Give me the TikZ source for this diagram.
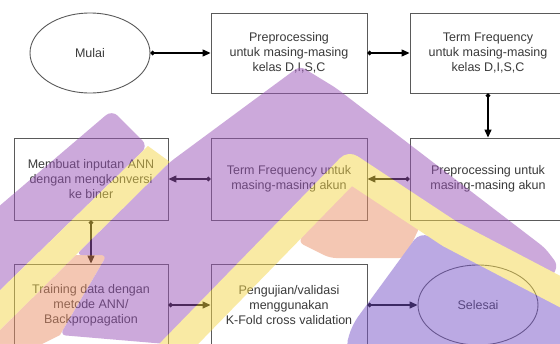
\documentclass[tikz,border=0pt]{standalone}
\usepackage{fontspec}
\setmainfont{Liberation Sans}
\usetikzlibrary{arrows.meta,shapes.geometric}
\definecolor{txt}{HTML}{3A3A3A}
\definecolor{bord}{HTML}{5A5A5A}
\definecolor{wmP}{RGB}{155,85,185}
\definecolor{wmB}{RGB}{120,85,200}
\definecolor{wmY}{RGB}{245,215,75}
\definecolor{wmO}{RGB}{235,145,105}
\begin{document}
\begin{tikzpicture}[x=1pt,y=-1pt,
  lbl/.style={text=txt,font=\fontsize{12.5}{15}\selectfont,align=center},
  box/.style={lbl,draw=bord,line width=0.9pt,rectangle,minimum width=156pt,minimum height=82pt,inner sep=2pt},
  rowone/.style={minimum height=80pt},
  oval/.style={lbl,draw=bord,line width=0.9pt,ellipse,minimum width=120pt,minimum height=80pt,inner sep=1pt},
  conn/.style={line width=1.3pt,draw=black,{Circle[length=4.5pt]}-{Triangle[length=8pt,width=7pt]}}]
\clip (0,0) rectangle (560,343);
\fill[white] (0,0) rectangle (560,343);
% nodes
\node[oval] (mulai) at (90,53) {Mulai};
\node[box,rowone] (p1) at (289,53) {Preprocessing\\untuk masing-masing\\kelas D,I,S,C};
\node[box,rowone] (tf1) at (488,53) {Term Frequency\\untuk masing-masing\\kelas D,I,S,C};
\node[box] (pa) at (488,179) {Preprocessing untuk\\masing-masing akun};
\node[box] (tfa) at (289,179) {Term Frequency untuk\\masing-masing akun};
\node[box,minimum width=154pt] (mb) at (91,179) {Membuat inputan ANN\\dengan mengkonversi\\ke biner};
\node[box,minimum width=154pt] (tr) at (91,305) {Training data dengan\\metode ANN/\\Backpropagation};
\node[box] (pg) at (289,305) {Pengujian/validasi\\menggunakan\\K-Fold cross validation};
\node[oval] (sel) at (478,305) {Selesai};
% connectors
\draw[conn] (mulai) -- (p1);
\draw[conn] (p1) -- (tf1);
\draw[conn] (tf1) -- (pa);
\draw[conn] (pa) -- (tfa);
\draw[conn] (tfa) -- (mb);
\draw[conn] (mb) -- (tr);
\draw[conn] (tr) -- (pg);
\draw[conn] (pg) -- (sel);
% watermark
\begin{scope}[transparency group, opacity=0.5]
\fill[wmP, rounded corners=8pt] (112,110) -- (148,146) -- (-10,300) -- (-10,214) -- cycle;
\fill[wmY] (148,146) -- (170,162) -- (-10,340) -- (-10,300) -- cycle;
\fill[wmO] (76,255) -- (107,255) -- (60,335) -- (30,350) -- (-10,350) -- (-10,340) -- cycle;
\fill[wmP, rounded corners=6pt] (170,162) -- (262,94) -- (300,66) -- (336,88) -- (545,248) -- (558,265) -- (548,285) -- (450,234) -- (350,168) -- (178,345) -- (60,335) -- (107,255) -- (76,255) -- cycle;
\fill[wmO, rounded corners=6pt] (298,242) -- (352,175) -- (422,222) -- (405,258) -- (330,258) -- cycle;
\fill[wmB, rounded corners=10pt] (420,232) -- (352,325) -- (345,350) -- (570,350) -- (570,300) -- cycle;
\draw[wmY, line width=28pt, line join=round] (165,358) -- (350,168) -- (450,234) -- (580,302);
\end{scope}
\end{tikzpicture}
\end{document}
